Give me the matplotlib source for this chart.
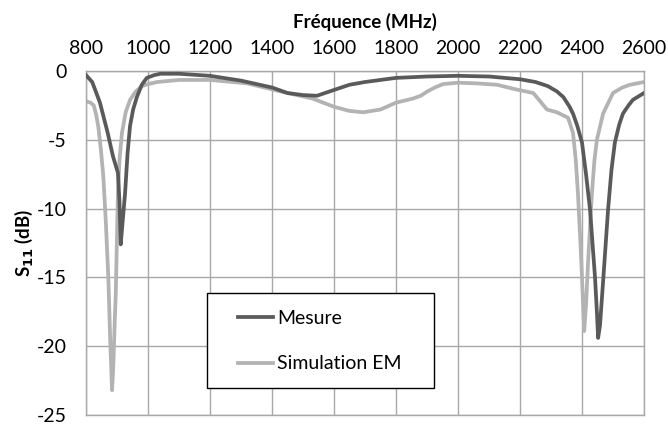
import matplotlib
matplotlib.use("Agg")
import matplotlib.pyplot as plt
from matplotlib.patches import Rectangle

plt.rcParams['font.family'] = ['Lato', 'DejaVu Sans']

mes_f = [800, 820, 845, 870, 887, 903, 908, 912, 918, 926, 934, 942, 952, 964, 980, 996,
         1020, 1040, 1100, 1200, 1300, 1400, 1450, 1500, 1545, 1597, 1650, 1700, 1800, 1900,
         2000, 2100, 2200, 2250, 2290, 2320, 2340, 2360, 2371, 2385, 2400, 2413, 2426, 2442,
         2448, 2452, 2458, 2469, 2484, 2495, 2506, 2520, 2532, 2550, 2564, 2600]
mes_db = [-0.3, -0.8, -2.3, -4.5, -6.2, -7.4, -9.5, -12.6, -11.0, -8.9, -6.0, -4.0, -2.8, -1.9,
          -1.0, -0.5, -0.3, -0.2, -0.2, -0.35, -0.7, -1.2, -1.6, -1.75, -1.8, -1.4, -1.0, -0.8,
          -0.5, -0.4, -0.35, -0.4, -0.6, -0.8, -1.1, -1.5, -1.9, -2.6, -3.1, -4.0, -5.2, -7.5,
          -10.1, -15.0, -17.5, -19.4, -18.5, -15.0, -10.1, -7.2, -5.2, -3.9, -3.1, -2.5, -2.1, -1.6]

sim_f = [800, 815, 825, 833, 840, 848, 856, 864, 872, 878, 884, 888, 893, 896, 900, 903, 908,
         916, 928, 942, 960, 980, 1000, 1030, 1100, 1200, 1320, 1430, 1530, 1600, 1650, 1694,
         1750, 1800, 1855, 1880, 1900, 1925, 1952, 2000, 2060, 2126, 2180, 2222, 2243, 2265,
         2287, 2319, 2355, 2371, 2380, 2387, 2395, 2400, 2407, 2413, 2420, 2432, 2440, 2448,
         2468, 2500, 2530, 2555, 2600]
sim_db = [-2.2, -2.3, -2.5, -3.2, -4.1, -5.7, -7.7, -11.0, -15.0, -19.5, -23.2, -21.5, -18.0,
          -16.2, -12.0, -8.9, -6.5, -4.5, -3.0, -2.1, -1.5, -1.1, -0.95, -0.8, -0.65, -0.65,
          -0.9, -1.5, -2.0, -2.6, -2.9, -3.0, -2.8, -2.3, -2.0, -1.8, -1.5, -1.2, -0.95, -0.85,
          -0.9, -1.0, -1.3, -1.5, -1.6, -2.2, -2.8, -3.0, -3.4, -4.5, -6.5, -8.9, -12.5, -15.0,
          -18.9, -17.0, -13.7, -8.9, -6.5, -5.0, -3.1, -1.6, -1.2, -1.0, -0.8]

xticks = [800, 1000, 1200, 1400, 1600, 1800, 2000, 2200, 2400, 2600]
yticks = [0, -5, -10, -15, -20, -25]

fig = plt.figure(figsize=(6.68, 4.28), dpi=100)
ax = fig.add_axes([86/668, 1 - 415/428, (644 - 86)/668, (415 - 71)/428])

ax.plot(mes_f, mes_db, color='#5a5a5a', lw=2.7, label='Mesure', zorder=3)
ax.plot(sim_f, sim_db, color='#b3b3b3', lw=2.7, label='Simulation EM', zorder=2)

ax.set_xlim(800, 2600)
ax.set_ylim(-25, 0)
ax.set_xticks(xticks)
ax.set_yticks(yticks)
ax.set_yticklabels([str(v) for v in yticks])
ax.xaxis.tick_top()
ax.xaxis.set_label_position('top')
ax.tick_params(axis='both', length=0, labelsize=14, colors='black')
ax.tick_params(axis='x', pad=10)
ax.tick_params(axis='y', pad=14)
ax.grid(True, color='#a8a8a8', lw=1.0)
for s in ax.spines.values():
    s.set_color('#a8a8a8')
    s.set_linewidth(1.0)

ax.set_xlabel('Fréquence (MHz)', fontsize=13.5, fontweight='bold', labelpad=9)
ax.set_ylabel('S$_{\\mathbf{11}}$ (dB)', fontsize=13.5, fontweight='bold', labelpad=1)

# legend box
ax.add_patch(Rectangle((0.2168, 0.0785), 0.6237 - 0.2168, 0.3547 - 0.0785,
                       transform=ax.transAxes, facecolor='white', edgecolor='black',
                       lw=1.0, zorder=4))
leg = ax.legend(loc='upper left', bbox_to_anchor=(0.2724, 0.305), fontsize=14,
                frameon=False, handlelength=1.8, handletextpad=0.2, labelspacing=1.46,
                borderpad=0, borderaxespad=0)
leg.set_zorder(5)

fig.savefig('out.png', dpi=100)
